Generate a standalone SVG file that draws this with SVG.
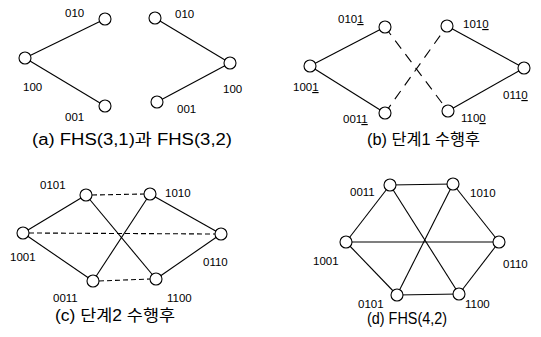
<svg xmlns="http://www.w3.org/2000/svg" width="541" height="337" viewBox="0 0 541 337">
<style>
.e{stroke:#000;stroke-width:1.1;fill:none}
.d{stroke-dasharray:10,7}
.s{stroke-dasharray:5,3}
.n{fill:#fff;stroke:#000;stroke-width:1.1}
text{font-family:"Liberation Sans","Noto Sans CJK KR",sans-serif;fill:#000}
.l{font-size:11.5px}
.c{font-size:16px}
</style>
<rect width="541" height="337" fill="#fff"/>
<g id="connectors">
<!-- a -->
<line class="e" x1="25" y1="58" x2="105" y2="19"/>
<line class="e" x1="25" y1="58" x2="105" y2="106"/>
<line class="e" x1="155" y1="18" x2="230" y2="63"/>
<line class="e" x1="157" y1="102" x2="230" y2="63"/>
<!-- b -->
<line class="e" x1="310" y1="66" x2="385" y2="27"/>
<line class="e" x1="310" y1="66" x2="385" y2="113"/>
<line class="e" x1="447" y1="26" x2="524" y2="68"/>
<line class="e" x1="448" y1="111" x2="524" y2="68"/>
<line class="e d" x1="385" y1="27" x2="448" y2="111"/>
<line class="e d" x1="385" y1="113" x2="447" y2="26"/>
<!-- c -->
<line class="e" x1="23" y1="233" x2="86" y2="195"/>
<line class="e" x1="23" y1="233" x2="93" y2="281"/>
<line class="e" x1="86" y1="195" x2="156" y2="279"/>
<line class="e" x1="93" y1="281" x2="150" y2="194"/>
<line class="e" x1="150" y1="194" x2="221" y2="234"/>
<line class="e" x1="156" y1="279" x2="221" y2="234"/>
<line class="e s" x1="92" y1="195" x2="144" y2="194"/>
<line class="e s" x1="29" y1="233" x2="215" y2="234"/>
<line class="e s" x1="99" y1="281" x2="150" y2="279"/>
<!-- d -->
<line class="e" x1="390" y1="185" x2="453" y2="184"/>
<line class="e" x1="453" y1="184" x2="499" y2="242"/>
<line class="e" x1="499" y1="242" x2="459" y2="294"/>
<line class="e" x1="459" y1="294" x2="397" y2="295"/>
<line class="e" x1="397" y1="295" x2="346" y2="242"/>
<line class="e" x1="346" y1="242" x2="390" y2="185"/>
<line class="e" x1="390" y1="185" x2="459" y2="294"/>
<line class="e" x1="453" y1="184" x2="397" y2="295"/>
<line class="e" x1="346" y1="242" x2="499" y2="242"/>
</g>
<g id="a-nodes">
<g id="a-100"><circle class="n" cx="25" cy="58" r="6"/><text class="l" x="23" y="91">100</text></g>
<g id="a-010"><circle class="n" cx="105" cy="19" r="6"/><text class="l" x="65" y="17">010</text></g>
<g id="a-001"><circle class="n" cx="105" cy="106" r="6"/><text class="l" x="65" y="121">001</text></g>
<g id="a2-010"><circle class="n" cx="155" cy="18" r="6"/><text class="l" x="175" y="18">010</text></g>
<g id="a2-100"><circle class="n" cx="230" cy="63" r="6"/><text class="l" x="223" y="93">100</text></g>
<g id="a2-001"><circle class="n" cx="157" cy="102" r="6"/><text class="l" x="177" y="113">001</text></g>
</g>
<g id="b-nodes">
<g id="b-1001"><circle class="n" cx="310" cy="66" r="6"/><text class="l" x="293" y="91">100<tspan text-decoration="underline">1</tspan></text></g>
<g id="b-0101"><circle class="n" cx="385" cy="27" r="6"/><text class="l" x="338" y="23">010<tspan text-decoration="underline">1</tspan></text></g>
<g id="b-0011"><circle class="n" cx="385" cy="113" r="6"/><text class="l" x="343" y="123">001<tspan text-decoration="underline">1</tspan></text></g>
<g id="b-1010"><circle class="n" cx="447" cy="26" r="6"/><text class="l" x="463" y="28">101<tspan text-decoration="underline">0</tspan></text></g>
<g id="b-1100"><circle class="n" cx="448" cy="111" r="6"/><text class="l" x="461" y="122">110<tspan text-decoration="underline">0</tspan></text></g>
<g id="b-0110"><circle class="n" cx="524" cy="68" r="6"/><text class="l" x="503" y="99">011<tspan text-decoration="underline">0</tspan></text></g>
</g>
<g id="c-nodes">
<g id="c-1001"><circle class="n" cx="23" cy="233" r="6"/><text class="l" x="10" y="261">1001</text></g>
<g id="c-0101"><circle class="n" cx="86" cy="195" r="6"/><text class="l" x="40" y="189">0101</text></g>
<g id="c-1010"><circle class="n" cx="150" cy="194" r="6"/><text class="l" x="165" y="197">1010</text></g>
<g id="c-0110"><circle class="n" cx="221" cy="234" r="6"/><text class="l" x="203" y="266">0110</text></g>
<g id="c-0011"><circle class="n" cx="93" cy="281" r="6"/><text class="l" x="53" y="302">0011</text></g>
<g id="c-1100"><circle class="n" cx="156" cy="279" r="6"/><text class="l" x="167" y="302">1100</text></g>
</g>
<g id="d-nodes">
<g id="d-0011"><circle class="n" cx="390" cy="185" r="6"/><text class="l" x="350" y="196">0011</text></g>
<g id="d-1010"><circle class="n" cx="453" cy="184" r="6"/><text class="l" x="470" y="197">1010</text></g>
<g id="d-1001"><circle class="n" cx="346" cy="242" r="6"/><text class="l" x="313" y="265">1001</text></g>
<g id="d-0110"><circle class="n" cx="499" cy="242" r="6"/><text class="l" x="503" y="268">0110</text></g>
<g id="d-0101"><circle class="n" cx="397" cy="295" r="6"/><text class="l" x="358" y="308">0101</text></g>
<g id="d-1100"><circle class="n" cx="459" cy="294" r="6"/><text class="l" x="465" y="308">1100</text></g>
</g>
<g id="captions">
<text class="c" x="32" y="145" textLength="200" lengthAdjust="spacingAndGlyphs">(a) FHS(3,1)과 FHS(3,2)</text>
<text class="c" x="367" y="145" textLength="113" lengthAdjust="spacingAndGlyphs">(b) 단계1 수행후</text>
<text class="c" x="55" y="321" textLength="120" lengthAdjust="spacingAndGlyphs">(c) 단계2 수행후</text>
<text class="c" x="367" y="324" textLength="80" lengthAdjust="spacingAndGlyphs">(d) FHS(4,2)</text>
</g>
</svg>
